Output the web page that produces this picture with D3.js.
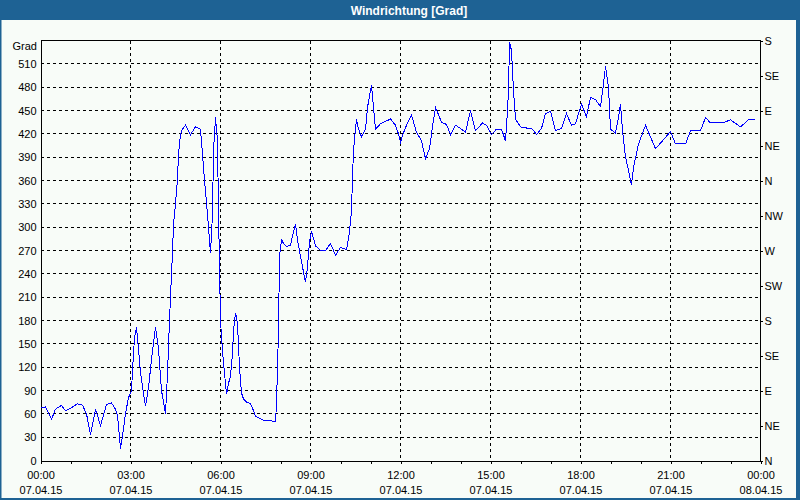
<!DOCTYPE html>
<html>
<head>
<meta charset="utf-8">
<script src="https://cdn.jsdelivr.net/npm/d3@7"></script>
<style>
  html, body { margin: 0; padding: 0; background: #f8fcf8; }
  svg { display: block; }
  text { font-family: "Liberation Sans", Arial, sans-serif; }
</style>
</head>
<body>
<svg id="chart" width="800" height="500"></svg>
<script>
const chartTitle = "Windrichtung [Grad]";
const yUnit = "Grad";
const dayStart = [2015, 3, 7];
const dayEnd = [2015, 3, 8];

const minuteOfDay = [
  2,10,22,30,42,50,60,74,84,92,
  100,110,120,132,142,150,154,160,164,170,
  176,182,184,188,192,194,200,206,210,216,
  224,230,236,242,250,254,258,262,264,266,
  270,274,276,280,284,290,300,310,320,324,
  328,334,338,340,344,346,350,354,356,360,
  364,372,376,380,384,386,390,394,398,402,
  406,412,420,426,430,438,446,460,470,472,
  474,476,478,482,486,492,500,506,510,514,
  518,524,530,534,538,542,550,560,570,580,
  590,600,612,618,622,624,626,632,634,642,
  650,654,662,666,670,680,690,700,710,716,
  720,724,732,742,752,762,770,778,784,790,
  802,812,820,830,840,850,860,870,884,892,
  902,912,922,930,934,936,938,942,946,950,
  960,976,984,992,1002,1010,1020,1030,1042,1052,
  1062,1070,1076,1082,1092,1100,1110,1120,1126,1130,
  1136,1140,1150,1156,1160,1164,1170,1176,1182,1186,
  1196,1210,1220,1230,1244,1260,1270,1280,1290,1300,
  1320,1330,1340,1364,1380,1400,1416,1428
];
const direction = [
  68,69,53,66,71,64,67,73,71,60,
  33,66,45,72,74,66,58,15,32,60,
  81,89,116,158,171,158,113,86,70,94,
  141,171,144,90,60,111,180,240,266,304,
  330,362,394,420,426,431,419,429,426,394,
  360,317,283,267,317,398,441,411,320,180,
  140,85,99,109,137,167,190,176,120,87,
  79,75,73,64,57,54,52,51,50,73,
  120,167,262,284,279,275,277,294,304,284,
  269,249,229,249,281,295,276,270,270,279,
  264,274,271,294,321,364,399,439,431,416,
  426,454,483,454,426,433,436,439,431,420,
  409,418,431,444,422,411,388,401,429,454,
  435,432,419,431,427,422,450,424,434,431,
  419,426,426,411,450,476,538,527,476,439,
  429,427,426,419,427,446,449,424,427,446,
  431,433,446,458,442,467,464,455,484,507,
  480,426,421,441,458,424,390,373,354,377,
  407,431,416,401,411,423,407,407,407,424,
  424,441,434,434,438,429,438,438
];

const yTickValues = [0,30,60,90,120,150,180,210,240,270,300,330,360,390,420,450,480,510];
const yMax = 540;
const compassValues = [0,45,90,135,180,225,270,315,360,405,450,495,540];
const compassLabels = ["N","NE","E","SE","S","SW","W","NW","N","NE","E","SE","S"];

const svg = d3.select("#chart");
const W = 800, H = 500;
const m = { left: 40.5, right: 760.5, top: 40.5, bottom: 460.5 };

// frame + title bar
svg.append("rect").attr("x", 0).attr("y", 0).attr("width", W).attr("height", H).attr("fill", "#f8fcf8");
svg.append("rect").attr("x", 0).attr("y", 0).attr("width", W).attr("height", 20).attr("fill", "#1e6294");
svg.append("rect").attr("x", 0).attr("y", 0).attr("width", 1.5).attr("height", H).attr("fill", "#1e6294");
svg.append("rect").attr("x", 796).attr("y", 0).attr("width", 4).attr("height", H).attr("fill", "#1e6294");
svg.append("rect").attr("x", 0).attr("y", 498).attr("width", W).attr("height", 2).attr("fill", "#1e6294");
svg.append("text").attr("x", 409).attr("y", 14.5).attr("text-anchor", "middle")
  .attr("fill", "#ffffff").attr("font-size", "12px").attr("font-weight", "bold").text(chartTitle);

const t0 = new Date(dayStart[0], dayStart[1], dayStart[2]);
const t1 = new Date(dayEnd[0], dayEnd[1], dayEnd[2]);
const x = d3.scaleTime().domain([t0, t1]).range([m.left, m.right]);
const y = d3.scaleLinear().domain([0, yMax]).range([m.bottom, m.top]);

const data = minuteOfDay.map((mm, i) => ({ t: d3.timeMinute.offset(t0, mm), v: direction[i] }));

// gridlines
const grid = svg.append("g").attr("stroke", "#000").attr("stroke-width", 1)
  .attr("stroke-dasharray", "3,3").attr("shape-rendering", "crispEdges");
grid.selectAll("line.h").data(yTickValues.filter(v => v > 0)).join("line")
  .attr("x1", m.left).attr("x2", m.right)
  .attr("y1", d => Math.round(y(d) - 0.5) + 0.5).attr("y2", d => Math.round(y(d) - 0.5) + 0.5);
const majorHours = d3.timeHour.every(3).range(t0, d3.timeMinute.offset(t1, 1)).filter(d => +d !== +t0 && +d !== +t1);
grid.selectAll("line.v").data(majorHours).join("line")
  .attr("y1", m.top).attr("y2", m.bottom)
  .attr("x1", d => x(d)).attr("x2", d => x(d));

// frame lines
const frame = svg.append("g").attr("stroke", "#000").attr("shape-rendering", "crispEdges");
frame.append("line").attr("x1", m.left).attr("x2", m.right).attr("y1", m.top).attr("y2", m.top);

// bottom axis: hourly minor ticks
const axB = svg.append("g").attr("transform", `translate(0,${m.bottom})`)
  .call(d3.axisBottom(x).ticks(d3.timeHour.every(1)).tickSize(3).tickSizeOuter(0).tickFormat(""));
axB.select(".domain").attr("shape-rendering", "crispEdges");
axB.selectAll(".tick line").attr("shape-rendering", "crispEdges");

// bottom labels (two lines)
const fmtTime = d3.timeFormat("%H:%M");
const fmtDate = d3.timeFormat("%d.%m.%y");
const axL = svg.append("g").attr("transform", `translate(0,${m.bottom})`)
  .call(d3.axisBottom(x).ticks(d3.timeHour.every(3)).tickSize(0).tickFormat(""));
axL.select(".domain").remove();
axL.selectAll(".tick").each(function(d) {
  const g = d3.select(this);
  g.select("text").remove();
  g.append("text").attr("y", 18.5).attr("text-anchor", "middle").attr("fill", "#000")
    .attr("font-size", "11px").text(fmtTime(d));
  g.append("text").attr("y", 33.5).attr("text-anchor", "middle").attr("fill", "#000")
    .attr("font-size", "11px").text(fmtDate(d));
});

// left axis
const axLeft = svg.append("g").attr("transform", `translate(${m.left},0)`)
  .call(d3.axisLeft(y).tickValues(yTickValues).tickSize(0).tickSizeOuter(0).tickPadding(4).tickFormat(d3.format("d")));
axLeft.select(".domain").attr("shape-rendering", "crispEdges");
axLeft.selectAll("text").attr("font-size", "11px").attr("font-family", "Liberation Sans, Arial, sans-serif").attr("fill", "#000");
svg.append("text").attr("x", 37).attr("y", 50).attr("text-anchor", "end")
  .attr("font-size", "11px").attr("fill", "#000").text(yUnit);

// right axis
const axRight = svg.append("g").attr("transform", `translate(${m.right - 1},0)`)
  .call(d3.axisRight(y).tickValues(compassValues).tickSize(3).tickSizeOuter(0).tickPadding(2)
    .tickFormat((d, i) => compassLabels[i]));
axRight.select(".domain").attr("shape-rendering", "crispEdges");
axRight.selectAll(".tick line").attr("shape-rendering", "crispEdges");
axRight.selectAll("text").attr("font-size", "11px").attr("font-family", "Liberation Sans, Arial, sans-serif").attr("fill", "#000");

// data line
const line = d3.line().x(d => x(d.t)).y(d => y(d.v));
svg.append("path").datum(data).attr("d", line)
  .attr("fill", "none").attr("stroke", "#0000ff").attr("stroke-width", 1)
  .attr("shape-rendering", "crispEdges");
</script>
</body>
</html>
